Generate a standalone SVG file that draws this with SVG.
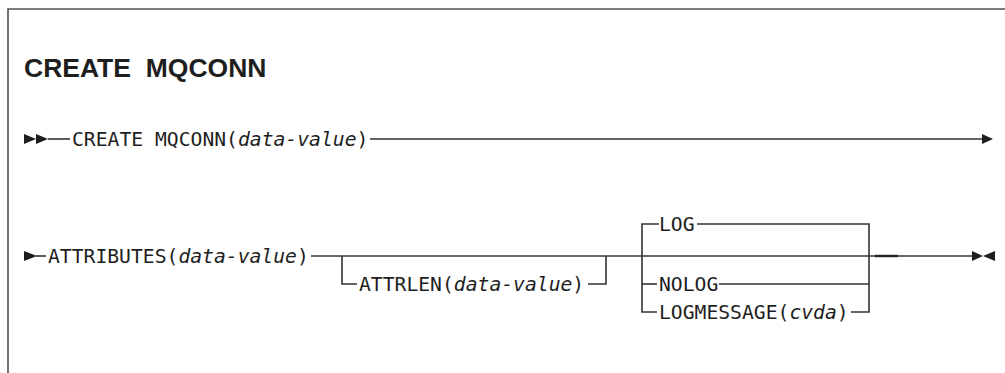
<svg xmlns="http://www.w3.org/2000/svg" width="1005" height="373" viewBox="0 0 1005 373">
  <style>
    .frame { fill: none; stroke: #505050; stroke-width: 1.6; }
    .rail { fill: none; stroke: #333; stroke-width: 1.6; }
    .dash { fill: none; stroke: #222; stroke-width: 2.4; }
    .mark { fill: #1e1e1e; }
    .kw { font-family: "DejaVu Sans Mono", "Liberation Mono", monospace; font-size: 19.7px; fill: #1e1e1e; }
    .var { font-style: italic; }
    .title { font-family: "Liberation Sans", Arial, sans-serif; font-weight: bold; font-size: 26.5px; fill: #1e1e1e; white-space: pre; }
  </style>
  <rect width="1005" height="373" fill="#fff"/>

  <!-- page frame -->
  <path class="frame" d="M8 373 V9 H1005"/>

  <g id="title">
    <text class="title" x="24" y="77">CREATE  MQCONN</text>
  </g>

  <!-- rails -->
  <g id="connectors">
    <!-- first row -->
    <path class="rail" d="M48 139 H70"/>
    <path class="rail" d="M370 139 H983"/>
    <!-- second row main rail -->
    <path class="rail" d="M36 256 H46"/>
    <path class="rail" d="M311 256 H875"/>
    <path class="dash" d="M875 256 H898"/>
    <path class="rail" d="M898 256 H972"/>
    <!-- optional ATTRLEN branch -->
    <path class="rail" d="M342 256 V284 H357"/>
    <path class="rail" d="M588 284 H606 V256"/>
    <!-- LOG / NOLOG / LOGMESSAGE choice -->
    <path class="rail" d="M659 224 H642 V312 H657"/>
    <path class="rail" d="M697 224 H869 V312 H851"/>
    <path class="rail" d="M642 284 H657"/>
    <path class="rail" d="M719 284 H869"/>
  </g>

  <g id="start1">
    <polygon class="mark" points="24,134 36,139 24,144"/>
    <polygon class="mark" points="36,134 48,139 36,144"/>
  </g>
  <g id="continue1">
    <polygon class="mark" points="982,134 993,139 982,144"/>
  </g>
  <g id="start2">
    <polygon class="mark" points="24,251 37,256 24,261"/>
  </g>
  <g id="end2">
    <polygon class="mark" points="972,251 983,256 972,261"/>
    <polygon class="mark" points="995,251 983,256 995,261"/>
  </g>

  <g id="create-mqconn">
    <text class="kw" x="72" y="146">CREATE MQCONN(<tspan class="var">data-value</tspan>)</text>
  </g>
  <g id="attributes">
    <text class="kw" x="48" y="263">ATTRIBUTES(<tspan class="var">data-value</tspan>)</text>
  </g>
  <g id="attrlen">
    <text class="kw" x="359" y="291">ATTRLEN(<tspan class="var">data-value</tspan>)</text>
  </g>
  <g id="log">
    <text class="kw" x="659" y="231">LOG</text>
  </g>
  <g id="nolog">
    <text class="kw" x="659" y="291">NOLOG</text>
  </g>
  <g id="logmessage">
    <text class="kw" x="659" y="319">LOGMESSAGE(<tspan class="var">cvda</tspan>)</text>
  </g>
</svg>
